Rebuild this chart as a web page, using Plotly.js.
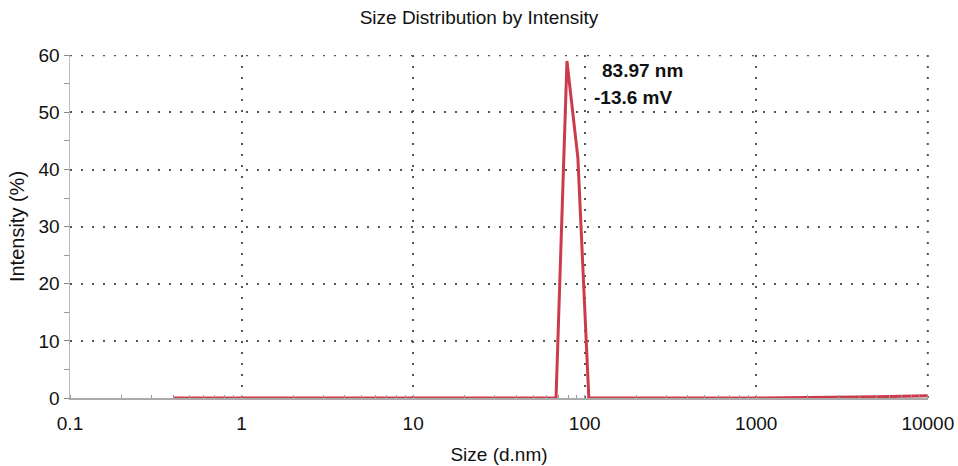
<!DOCTYPE html>
<html>
<head>
<meta charset="utf-8">
<script src="https://cdn.plot.ly/plotly-3.0.1.min.js"></script>
<style>html,body{margin:0;padding:0;background:#fff;}#chart{width:958px;height:466px;}</style>
</head>
<body>
<div id="chart"></div>
<script>
const sizes = [0.4, 1, 10, 50, 68.06, 78.82, 91.28, 105.7, 200, 1000, 5000, 10000];
const intensity = [0, 0, 0, 0, 0, 59, 42, 0, 0, 0, 0.2, 0.4];
const annotationLines = ["83.97 nm", "-13.6 mV"];
const yTicks = [0, 10, 20, 30, 40, 50, 60];
const xTicks = [0.1, 1, 10, 100, 1000, 10000];
const xTickText = ["0.1", "1", "10", "100", "1000", "10000"];

const font = "Liberation Sans, Arial, sans-serif";
const trace = {
  x: sizes, y: intensity, type: "scatter", mode: "lines",
  line: {color: "#cc3b4b", width: 3}, cliponaxis: false, hoverinfo: "skip"
};
const dotLine = {color: "#555", width: 2, dash: "2px,9px"};
const layout = {
  width: 958, height: 466,
  margin: {l: 70, r: 30, t: 55, b: 68},
  paper_bgcolor: "#fff", plot_bgcolor: "#fff",
  font: {family: font, color: "#111"},
  showlegend: false,
  title: {text: "Size Distribution by Intensity", font: {size: 19, family: font, color: "#111"}, x: 0.5, xanchor: "center", y: 0.962, yanchor: "middle"},
  xaxis: {
    type: "log", range: [-1, 4.001], tickvals: xTicks, ticktext: xTickText,
    showgrid: true, gridcolor: "#555", griddash: "2px,9px", gridwidth: 2,
    showline: true, linecolor: "#aaa", linewidth: 1.5, zeroline: false,
    ticks: "", ticklabelstandoff: 8, tickfont: {size: 19, family: font, color: "#111"},
    minor: {ticks: "inside", ticklen: 3, tickcolor: "#999", dtick: "D1", showgrid: false},
    title: {text: "Size (d.nm)", font: {size: 19, family: font, color: "#111"}, standoff: 14}
  },
  yaxis: {
    range: [0, 60.05], tickvals: yTicks,
    showgrid: true, gridcolor: "#555", griddash: "2px,9px", gridwidth: 2,
    showline: true, linecolor: "#bbb", linewidth: 1.5, zeroline: false,
    ticks: "outside", ticklen: 5, tickcolor: "#888",
    tickfont: {size: 19, family: font, color: "#111"},
    minor: {dtick: 5, ticks: "outside", ticklen: 5, tickcolor: "#999", showgrid: false},
    title: {text: "Intensity (%)", font: {size: 20, family: font, color: "#111"}, standoff: 8}
  },
  shapes: [
    {type: "line", xref: "paper", yref: "y", x0: 0, x1: 1, y0: 60, y1: 60, line: dotLine, layer: "below"},
    {type: "line", xref: "paper", yref: "paper", x0: 0.99977, x1: 0.99977, y0: 0, y1: 1, line: dotLine, layer: "below"}
  ],
  annotations: [
    {x: Math.log10(122), y: 57.3, xref: "x", yref: "y", xanchor: "left", yanchor: "middle",
     text: "<b>" + annotationLines[0] + "</b>", showarrow: false, font: {size: 19, family: font, color: "#111"}},
    {x: Math.log10(110), y: 52.6, xref: "x", yref: "y", xanchor: "left", yanchor: "middle",
     text: "<b>" + annotationLines[1] + "</b>", showarrow: false, font: {size: 19, family: font, color: "#111"}}
  ]
};
Plotly.newPlot("chart", [trace], layout, {displayModeBar: false, staticPlot: true});
</script>
</body>
</html>
